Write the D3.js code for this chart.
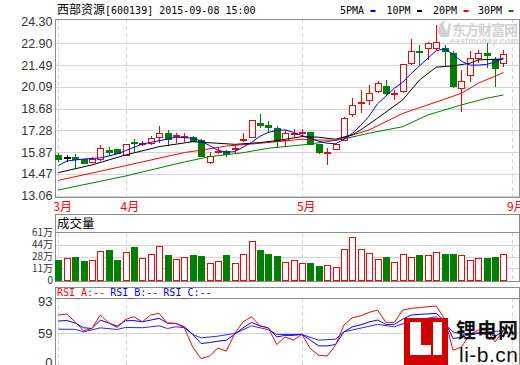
<!DOCTYPE html>
<html>
<head>
<meta charset="utf-8">
<script src="https://cdn.jsdelivr.net/npm/d3@7"></script>
<style>
  body { margin: 0; background: #fff; }
  svg  { display: block; font-family: "Liberation Sans", Arial, sans-serif; }
</style>
</head>
<body>
<svg id="chart" width="520" height="365"></svg>
<script>
/* ───────────────────────────── DATA ───────────────────────────── */
const stockName = "西部资源";
const stockInfo = "[600139] 2015-09-08 15:00";

// daily candles, one entry per trading day (index 0 = first day shown)
const open  = [15.63,15.54,15.54,15.37,15.22,15.37,15.95,16.02,15.69,16.48,16.38,16.45,16.84,17.05,16.88,16.85,16.84,16.62,15.22,15.85,
               15.90,16.05,16.67,16.84,17.70,17.60,17.42,16.62,17.08,17.08,17.16,16.34,15.83,16.06,16.66,18.28,19.04,19.20,19.79,20.15,
               19.62,19.79,21.62,22.40,22.60,22.60,22.60,22.27,20.01,20.80,21.95,22.23,21.84,21.62];
const high  = [15.80,15.69,15.74,15.41,15.54,16.34,16.20,16.08,16.40,16.71,16.62,16.92,17.57,17.31,17.10,17.10,16.90,16.75,15.90,16.23,
               16.00,16.34,17.10,17.95,18.34,17.91,17.57,17.31,17.35,17.35,17.20,16.38,16.13,16.40,18.12,19.36,19.90,20.22,20.50,20.54,
               19.90,21.60,23.18,22.81,23.00,24.10,22.81,22.40,21.19,22.44,22.48,22.92,22.05,22.48];
const low   = [15.26,15.26,14.78,15.11,15.16,15.30,15.65,15.74,15.62,15.90,16.27,16.34,16.45,16.28,16.49,16.55,16.50,15.55,15.11,15.75,
               15.55,15.76,16.55,16.80,17.42,17.10,16.13,16.28,16.88,16.90,16.32,15.74,15.05,16.00,16.60,18.17,18.43,18.93,19.68,19.57,
               19.25,19.70,21.50,21.50,21.84,22.50,21.40,20.05,18.49,20.43,21.62,21.30,20.11,21.40];
const close = [15.41,15.54,15.37,15.16,15.41,16.13,15.88,15.80,16.34,16.42,16.42,16.77,17.05,16.71,16.92,16.88,16.55,15.58,15.58,15.90,
               15.74,16.08,16.72,17.91,17.60,17.48,16.55,17.10,17.10,17.12,16.38,15.86,15.86,16.34,18.07,18.86,19.09,19.68,20.33,19.64,
               19.64,21.51,22.37,22.30,22.92,22.99,22.38,20.11,20.43,21.95,22.23,22.10,21.30,22.16];
// volume, 万手
const volume = [26.0,28.2,29.5,24.7,25.6,37.2,38.8,26.0,35.9,42.3,28.2,33.3,43.1,32.0,26.9,29.5,31.2,29.9,21.8,24.4,
                31.2,21.8,33.3,50.0,38.8,33.7,29.9,23.1,25.6,21.8,20.9,18.3,19.2,16.7,39.7,55.1,39.7,34.6,26.9,28.6,
                23.1,33.3,29.5,31.2,31.2,35.9,32.8,33.7,32.4,25.6,28.2,27.3,28.6,33.3];

// moving averages: [day index, value]
const ma5  = [[0,15.0],[1,15.3],[3,15.43],[5,15.5],[7,15.76],[8,15.97],[10,16.4],[13,16.72],[14,16.84],[16,16.78],[17,16.6],
              [18,16.3],[19,16.0],[20,15.87],[21,15.91],[22,16.2],[23,16.5],[24,16.9],[25,17.15],[26,17.28],[27,17.31],[28,17.15],
              [29,16.95],[31,16.58],[32,16.45],[33,16.42],[34,16.7],[35,17.1],[36,17.6],[37,18.2],[38,19.0],[39,19.5],[40,20.0],
              [41,20.4],[42,20.95],[43,21.45],[44,21.95],[45,22.44],[46,22.55],[47,22.2],[48,21.75],[49,21.5],[50,21.5],[51,21.55],
              [52,21.7],[53,21.95]];
const ma10 = [[0,14.55],[4,15.05],[8,15.69],[12,16.23],[16,16.55],[19,16.45],[21,16.38],[24,16.49],[26,16.62],[29,16.88],
              [31,16.84],[33,16.71],[35,17.0],[36,17.31],[38,18.07],[41,19.25],[43,20.54],[45,21.37],[47,21.45],[49,21.62],
              [50,21.84],[52,21.88],[53,21.9]];
const ma20 = [[0,14.05],[8,15.0],[15,15.85],[17,16.0],[20,16.27],[23,16.4],[26,16.55],[29,16.71],[31,16.66],[33,16.64],
              [37,17.31],[41,18.38],[46,19.3],[48,19.68],[50,20.33],[53,21.02]];
const ma30 = [[0,13.43],[8,14.33],[15,15.24],[18,15.58],[22,15.84],[25,16.13],[29,16.34],[32,16.55],[34,16.73],[37,17.1],
              [41,17.52],[44,18.28],[48,18.93],[51,19.36],[53,19.57]];

// RSI lines: [day index, value]
const rsiA = [[0,78.3],[1,79.3],[2,71.2],[3,61.7],[4,64.2],[5,78.3],[6,70.2],[7,65.3],[8,73.7],[9,76.5],[10,71.2],[11,78.3],
              [12,80.1],[13,69.5],[14,69.5],[15,65],[16,44.9],[17,32.7],[18,35.4],[19,43.8],[20,40.4],[21,59],[22,71.2],[23,76.5],
              [24,67],[25,64.9],[26,47.4],[27,55.4],[28,52],[29,58],[30,43.2],[31,36.2],[32,35.4],[33,46.7],[34,67.7],[35,75.4],
              [36,77.5],[37,81.1],[38,83.5],[39,70.6],[40,70.6],[41,83.5],[42,85.3],[43,86],[44,87],[45,87.7],[46,74],[47,41.4],
              [48,44.9],[49,58],[50,62.5],[51,62.5],[52,50.2],[53,62]];
const rsiB = [[0,72],[1,72.6],[2,70],[3,65],[4,64.2],[5,73],[6,70],[7,66.7],[8,72.3],[9,72.5],[10,71.2],[11,73],[12,74.8],
              [13,70],[14,69.5],[15,66],[16,58],[17,48.5],[18,49.5],[19,50.9],[20,52],[21,58],[22,65],[23,70.6],[24,67],[25,64.9],
              [26,55.4],[27,57],[28,57],[29,58],[30,52],[31,46],[32,46],[33,47.4],[34,60.7],[35,66],[36,68],[37,71],[38,73],
              [39,68.5],[40,68.5],[41,74],[42,78.3],[43,79],[44,79.5],[45,80.1],[46,72],[47,53.7],[48,55],[49,58],[50,59],
              [51,60],[52,56],[53,61.4]];
const rsiC = [[0,63.5],[2,63.3],[3,60.7],[5,64.9],[7,63.2],[8,65.3],[10,65],[12,67],[13,64.2],[14,66],[15,65],[16,58],
              [17,54.4],[19,56.2],[21,59],[23,67],[25,63],[26,58],[29,58],[31,52],[33,53],[34,60.7],[38,68.5],[40,66],[42,72],
              [45,76.5],[47,60.7],[48,58],[49,59],[53,62]];

const monthTicks   = [0, 8, 29, 54];
const monthLabels  = ["3月", "4月", "5月", "9月"];
const priceTicks   = [24.30, 22.90, 21.49, 20.09, 18.68, 17.28, 15.87, 14.47, 13.06];
const volTickLabels = ["61万", "44万", "28万", "11万", "0"];
const rsiTicks     = [93, 59];
const maLegend     = ["5PMA", "10PM", "20PM", "30PM"];
const maColors     = ["#0000ff", "#000000", "#ff0000", "#008000"];

/* ───────────────────────────── SETUP ───────────────────────────── */
const RED = "#ff0000", GREEN = "#008000", BORDER = "#8c8c8c", GRID = "#d4d4d4";
const LEFT = 55, RIGHT = 519;
const svg = d3.select("#chart");

const x  = d3.scaleLinear().domain([0, 54]).range([58.3, 511.9]);
const y  = d3.scaleLinear().domain([13.06, 24.30]).range([195.7, 21.8]);
const yv = d3.scaleLinear().domain([0, 61]).range([280.3, 232.7]);
const yr = d3.scaleLinear().domain([26, 93]).range([365, 301]);

const days = d3.range(open.length);
const col  = i => close[i] > open[i] ? RED : close[i] < open[i] ? GREEN : "#000";

/* ───────────────────────────── WATERMARK ───────────────────────── */
const wm = svg.append("g").attr("fill", "#d2d2d2");
wm.append("path")
  .attr("d", "M441,37 C435,31 437,23 446,20 C443,24 443,28 447,31 L449,23 L451,24 L449,37 Z");
wm.append("text").attr("x", 452).attr("y", 35)
  .style("font-family", "Noto Sans CJK SC").style("font-size", "14px").style("font-weight", "bold")
  .attr("textLength", 66).text("东方财富网");
wm.append("text").attr("x", 450).attr("y", 44)
  .style("font-size", "8.5px").style("font-weight", "bold").style("font-style", "italic")
  .attr("textLength", 68).text("eastmoney.com");

/* ───────────────────────────── FRAMES & GRID ───────────────────── */
// main panel
svg.append("g").selectAll("line").data(priceTicks.slice(1))
  .join("line")
  .attr("x1", LEFT).attr("x2", RIGHT)
  .attr("y1", d => Math.round(y(d)) + 0.5).attr("y2", d => Math.round(y(d)) + 0.5)
  .attr("stroke", GRID);

// volume gridlines (four equal bands)
svg.append("g").selectAll("line").data([1, 2, 3])
  .join("line")
  .attr("x1", LEFT).attr("x2", RIGHT)
  .attr("y1", k => Math.round(yv(61 * k / 4)) + 0.5).attr("y2", k => Math.round(yv(61 * k / 4)) + 0.5)
  .attr("stroke", GRID);

// rsi gridline
svg.append("line")
  .attr("x1", LEFT).attr("x2", RIGHT)
  .attr("y1", Math.round(yr(59)) + 0.5).attr("y2", Math.round(yr(59)) + 0.5)
  .attr("stroke", GRID);

// month dashed verticals
const vSpans = [[19, 197], [233, 280], [298, 365]];
vSpans.forEach(([a, b]) => {
  svg.append("g").selectAll("line").data(monthTicks)
    .join("line")
    .attr("x1", d => Math.round(x(d)) + 0.5).attr("x2", d => Math.round(x(d)) + 0.5)
    .attr("y1", a).attr("y2", b)
    .attr("stroke", GRID).attr("stroke-dasharray", "4,3");
});

// panel borders
const frames = [[19, 197, null], [214, 281, 232.5], [287, 372, 298.5]];
frames.forEach(([t, b, head]) => {
  svg.append("rect")
    .attr("x", LEFT + 0.5).attr("y", t + 0.5)
    .attr("width", RIGHT - LEFT).attr("height", b - t)
    .attr("fill", "none").attr("stroke", BORDER);
  if (head) svg.append("line")
    .attr("x1", LEFT).attr("x2", RIGHT + 1).attr("y1", head).attr("y2", head)
    .attr("stroke", BORDER);
});

/* ───────────────────────────── AXIS TEXT ───────────────────────── */
const lbl = svg.append("g").attr("fill", "#333").attr("text-anchor", "end");
lbl.selectAll(".p").data(priceTicks).join("text")
  .attr("x", 52.5).attr("y", d => y(d)).attr("dy", "0.36em")
  .style("font-size", "12.5px")
  .text(d => d.toFixed(2));

lbl.selectAll(".v").data(volTickLabels).join("text")
  .attr("x", 53).attr("y", (d, k) => yv(61 * (4 - k) / 4)).attr("dy", "0.36em")
  .style("font-family", "Noto Sans CJK SC").style("font-size", "10px")
  .text(d => d);

lbl.selectAll(".r").data(rsiTicks).join("text")
  .attr("x", 52.5).attr("y", d => yr(d)).attr("dy", "0.36em")
  .style("font-size", "13px")
  .text(d => d);
lbl.append("text").attr("x", 52.5).attr("y", 367)
  .style("font-size", "13px").text("0");

svg.append("g").selectAll("text").data(monthTicks)
  .join("text")
  .attr("x", d => x(d) - 5).attr("y", 211)
  .attr("fill", RED)
  .style("font-family", "Noto Sans CJK SC").style("font-size", "12px")
  .text((d, k) => monthLabels[k]);

/* ───────────────────────────── HEADERS ─────────────────────────── */
const head = svg.append("text").attr("x", 57).attr("y", 14).attr("fill", "#000");
head.append("tspan").style("font-family", "Noto Sans CJK SC").style("font-size", "12px").text(stockName);
head.append("tspan").style("font-family", "DejaVu Sans Mono").style("font-size", "10px").text(stockInfo);

const legX = [340, 386.5, 433, 478];
maLegend.forEach((t, k) => {
  svg.append("text").attr("x", legX[k]).attr("y", 14)
    .style("font-family", "DejaVu Sans Mono").style("font-size", "10px")
    .text(t);
  svg.append("rect").attr("x", legX[k] + 30.5).attr("y", 10).attr("width", 5).attr("height", 2)
    .attr("fill", maColors[k]);
});

svg.append("text").attr("x", 57).attr("y", 228)
  .style("font-family", "Noto Sans CJK SC").style("font-size", "12.5px")
  .text("成交量");

const rsiHead = svg.append("text").attr("x", 57).attr("y", 296)
  .style("font-family", "DejaVu Sans Mono").style("font-size", "10px");
rsiHead.append("tspan").attr("fill", RED).text("RSI_A:--");
rsiHead.append("tspan").attr("fill", "#0000ff").attr("dx", 5).text("RSI_B:--");
rsiHead.append("tspan").attr("fill", "#0000ff").attr("dx", 5).text("RSI_C:--");

/* ───────────────────────────── CANDLES ─────────────────────────── */
const cg = svg.append("g").attr("shape-rendering", "crispEdges");
cg.selectAll("line").data(days).join("line")
  .attr("x1", i => Math.round(x(i)) + 0.5).attr("x2", i => Math.round(x(i)) + 0.5)
  .attr("y1", i => y(high[i])).attr("y2", i => y(low[i]))
  .attr("stroke", col);

cg.selectAll("rect").data(days).join("rect")
  .attr("x", i => Math.round(x(i)) - 2.5)
  .attr("y", i => y(Math.max(open[i], close[i])))
  .attr("width", 6)
  .attr("height", i => Math.max(1, Math.abs(y(open[i]) - y(close[i]))))
  .attr("fill", i => close[i] > open[i] ? "#fff" : col(i))
  .attr("stroke", col);

/* ───────────────────────────── MOVING AVERAGES ─────────────────── */
const line = d3.line().x(d => x(d[0])).y(d => y(d[1]));
[ma30, ma20, ma10, ma5].forEach((s, k) => {
  svg.append("path").datum(s)
    .attr("fill", "none")
    .attr("stroke", maColors[3 - k])
    .attr("stroke-width", 1)
    .attr("d", line);
});

/* ───────────────────────────── VOLUME ──────────────────────────── */
svg.append("g").attr("shape-rendering", "crispEdges")
  .selectAll("rect").data(days).join("rect")
  .attr("x", i => Math.round(x(i)) - 2.5)
  .attr("y", i => yv(volume[i]))
  .attr("width", 6)
  .attr("height", i => yv(0) - yv(volume[i]))
  .attr("fill", i => close[i] >= open[i] ? "#fff" : GREEN)
  .attr("stroke", i => close[i] >= open[i] ? RED : GREEN);

/* ───────────────────────────── RSI ─────────────────────────────── */
const rline = d3.line().x(d => x(d[0])).y(d => yr(d[1]));
[[rsiC, "#2828ff"], [rsiB, "#0000ff"], [rsiA, RED]].forEach(([s, c]) => {
  svg.append("path").datum(s)
    .attr("fill", "none").attr("stroke", c).attr("d", rline);
});

/* ───────────────────────────── LOGO ────────────────────────────── */
const logo = svg.append("g");
logo.append("rect").attr("x", 404).attr("y", 318).attr("width", 44).attr("height", 48).attr("fill", "#d40000");
logo.append("path").attr("fill", "#fff")
  .attr("d", "M410,322 H421 V345 H431 V355 H410 Z");
logo.append("rect").attr("x", 433).attr("y", 322).attr("width", 9).attr("height", 33).attr("fill", "#fff");
logo.append("text").attr("x", 456).attr("y", 338)
  .style("font-family", "Noto Sans CJK SC").style("font-size", "20px").style("font-weight", "bold")
  .attr("fill", "#111").attr("textLength", 62).text("锂电网");
logo.append("text").attr("x", 459).attr("y", 362)
  .style("font-size", "21px").attr("fill", "#111").attr("textLength", 59).text("li-b.cn");
</script>
</body>
</html>
